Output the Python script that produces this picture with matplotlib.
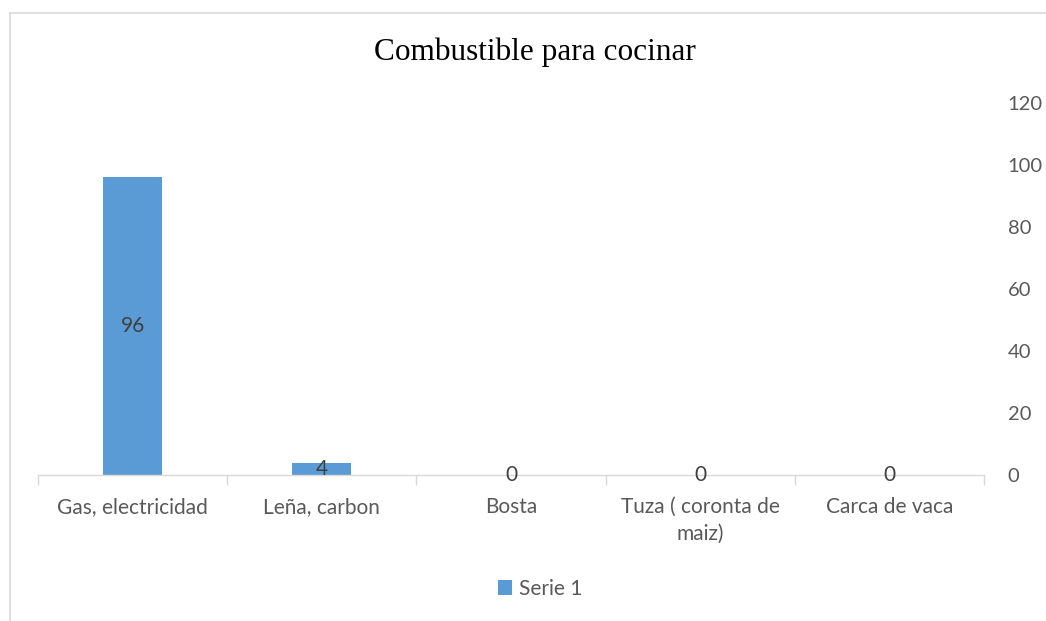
import matplotlib
matplotlib.use("Agg")
import matplotlib.pyplot as plt
from matplotlib.lines import Line2D
from matplotlib.patches import Patch

## DATA

categories = ["Gas, electricidad", "Leña, carbon", "Bosta",
              "Tuza ( coronta de\nmaiz)", "Carca de vaca"]
serie_1 = [96, 4, 0, 0, 0]
y_ticks = [0, 20, 40, 60, 80, 100, 120]
title = "Combustible para cocinar"
series_name = "Serie 1"

## PLOT

bar_color = "#5B9BD5"
text_gray = "#595959"
W, H = 1046, 621

fig = plt.figure(figsize=(W / 100, H / 100), dpi=100)
ax = fig.add_axes([38 / W, 146 / H, (984 - 38) / W, (475 - 102.5) / H])

x = list(range(len(categories)))
bars = ax.bar(x, serie_1, width=0.31, color=bar_color, zorder=2)

# data labels centred inside the bars (Excel "center" position)
for xi, v in zip(x, serie_1):
    ax.text(xi, v / 2, str(v), ha="center", va="center",
            fontsize=15, color="#404040", family="Lato", zorder=3)

ax.set_xlim(-0.5, len(categories) - 0.5)
ax.set_ylim(0, 120)

# y axis on the right, no line, no ticks
ax.yaxis.tick_right()
ax.set_yticks(y_ticks)
ax.tick_params(axis="y", length=0, pad=17, labelsize=14.5, labelcolor=text_gray)

# category labels, with boundary tick marks as minor ticks
ax.set_xticks(x)
ax.set_xticklabels(categories, fontsize=15, color=text_gray, family="Lato",
                   linespacing=1.4)
ax.set_xticks([i - 0.5 for i in range(len(categories) + 1)], minor=True)
ax.tick_params(axis="x", which="major", length=0, pad=16)
ax.tick_params(axis="x", which="minor", length=7, width=1, color="#d9d9d9",
               direction="out")
for lab in ax.get_yticklabels():
    lab.set_family("Lato")

for side in ["top", "right", "left"]:
    ax.spines[side].set_visible(False)
ax.spines["bottom"].set_color("#d9d9d9")
ax.spines["bottom"].set_linewidth(1)

fig.text(535 / W, 1 - 52 / H, title, ha="center", va="center",
         fontsize=22.5, family="Liberation Serif", color="black")

handle = Patch(facecolor=bar_color, edgecolor="none")
fig.legend([handle], [series_name], loc="center", bbox_to_anchor=(540 / W, 1 - 589 / H),
           frameon=False, prop={"family": "Lato", "size": 15}, labelcolor=text_gray,
           handlelength=0.7, handleheight=0.7, handletextpad=0.3)

# chart area border (left and top edges visible in the crop)
fig.add_artist(Line2D([9.5 / W, 9.5 / W], [0, 1 - 13 / H], transform=fig.transFigure,
                      color="#d9d9d9", linewidth=1.2))
fig.add_artist(Line2D([9.5 / W, 1], [1 - 13 / H, 1 - 13 / H], transform=fig.transFigure,
                      color="#d9d9d9", linewidth=1.2))

fig.savefig("out.png", dpi=100)
